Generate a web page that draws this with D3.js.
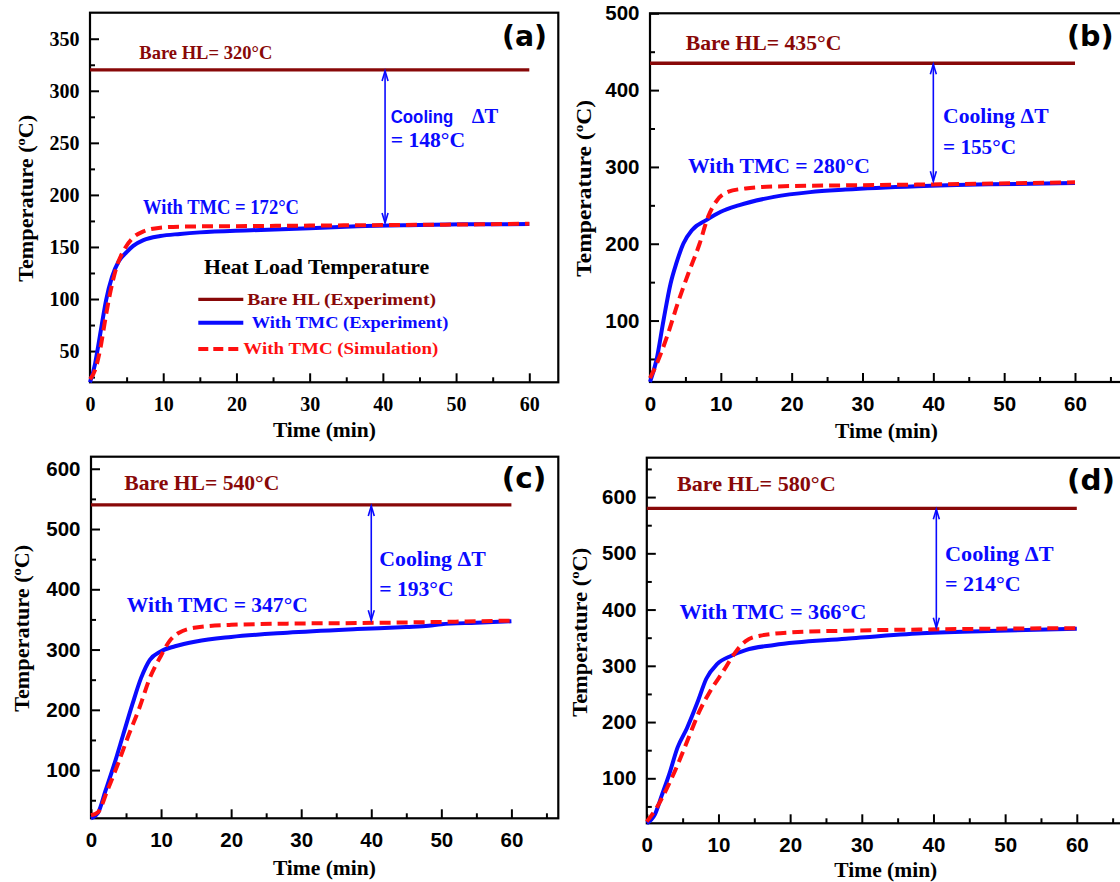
<!DOCTYPE html>
<html>
<head>
<meta charset="utf-8">
<script src="https://cdn.jsdelivr.net/npm/d3@7/dist/d3.min.js"></script>
<style>
  body { margin: 0; background: #fff; }
  svg { display: block; }
</style>
</head>
<body>
<svg id="fig" width="1120" height="882"></svg>
<script>
// ---- values ----
const panelTags = ["(a)", "(b)", "(c)", "(d)"];
const bareHL = [320, 435, 540, 580];      // bare heat load, steady state (°C)
const withTMC = [172, 280, 347, 366];     // with TMC at 60 min (°C)
const coolingDT = [148, 155, 193, 214];   // bare minus TMC (°C)
const arrowTime = [40.3, 40, 40, 40.4];   // min

const timeTicks = [0, 10, 20, 30, 40, 50, 60];
const timeMinor = [5, 15, 25, 35, 45, 55, 65];
const tempTicksA = [50, 100, 150, 200, 250, 300, 350];
const tempMinorA = [25, 75, 125, 175, 225, 275, 325];
const tempTicksB = [100, 200, 300, 400, 500];
const tempMinorB = [50, 150, 250, 350, 450];
const tempTicksC = [100, 200, 300, 400, 500, 600];
const tempMinorC = [50, 150, 250, 350, 450, 550];
const tempTicksD = [100, 200, 300, 400, 500, 600];
const tempMinorD = [50, 150, 250, 350, 450, 550, 650];

// [time (min), temperature (°C)]
const expA = [[0,20],[0.7,38],[1.1,54],[1.6,75],[2.2,99],[3.0,121],[3.9,136],[5.0,145],[5.9,151],[7.3,156.5],[9.6,160.5],[12.3,162.5],[15,164],[22,166],[30,168],[36.5,169.8],[45,171],[51,171.7],[60,172]];
const simA = [[0,23],[0.7,32],[1.4,52],[2.05,79],[2.7,104],[3.6,130],[4.8,149],[5.9,159],[7.3,165],[9.6,168.5],[12.3,169.5],[20,170],[30,170.5],[40,171],[50,171.5],[60,172.3]];
const expB = [[0,20],[0.9,48],[1.9,100],[2.9,148],[3.7,174],[4.7,200],[5.95,218],[8,231],[10,241.6],[12.5,250],[17.5,261],[22.6,267.2],[27.6,270.5],[37.7,274.8],[47.8,277.3],[60,279]];
const simB = [[0,25],[1.1,47],[2.4,79],[3.9,122],[5.4,161],[7.0,200],[8.2,235],[9.5,257],[11,267.5],[13.5,272],[17.5,274.5],[27.6,276],[37.7,277],[60,280]];
const expC = [[0,20],[1.0,29],[2.05,65],[3.3,109],[4.6,159],[5.9,209],[7.15,253],[8.4,283],[9.95,297],[12,305.5],[15,313.5],[20,321],[28,328],[38,334],[45,337.5],[48.2,339.5],[50,342],[55,344.5],[60,347]];
const simC = [[0,25],[1.0,30],[2.3,65],[3.8,109],[5.4,159],[6.9,203],[8.4,253],[9.95,289],[11.2,314],[12.5,327.5],[15,336.5],[20,341],[28,343],[38,344],[48,345.5],[60,348]];
const expD = [[0,20],[1.1,35],[2.1,70],[3.1,106],[4.3,155],[5.6,189],[7.1,236],[8.3,277],[9.8,303],[11.8,318],[13.8,328],[17.8,337],[27.8,348],[37.7,357.5],[47.7,362],[60,366]];
const simD = [[0,23],[1.35,47],[2.8,82],[4.3,124],[5.8,171],[7.3,218],[8.8,254],[10.6,289],[12.3,323],[13.8,344],[15.8,353.5],[20.3,359.5],[28,362.5],[38,364.5],[60,367]];

const legendTitle = "Heat Load Temperature";
const legendNames = ["Bare HL  (Experiment)", "With TMC (Experiment)", "With TMC (Simulation)"];

// ---- styles ----
const SERIF = "'Liberation Serif', 'Times New Roman', serif";
const SANS = "'Liberation Sans', Arial, sans-serif";
const TAGFONT = "'DejaVu Sans', Verdana, sans-serif";
const C_BARE = "#880808";
const C_EXP = "#0a0aff";
const C_SIM = "#ff1010";

// ---- layout (pixels) ----
const panels = [
  { tag: 0, x0: 90, x60: 529.3, right: 558.3, top: 12.7, bottom: 382.3, yDom: [20, 375],
    ticks: tempTicksA, minor: tempMinorA, exp: expA, sim: simA, tickFont: SERIF, tickSize: 20, xPad: 15,
    bare: [139.3, 59, 133, 19], tagPos: [502, 45.5, 45, 28],
    cool: null, cool2: [390.7, 147.3, 74.3, 22], tmc: [143, 214, 156, 20],
    xTitle: [324.4, 437], yTitle: [33, 198.3, 167] },
  { tag: 1, x0: 650, x60: 1075, right: 1140, top: 13.3, bottom: 382, yDom: [20, 500],
    ticks: tempTicksB, minor: tempMinorB, exp: expB, sim: simB, tickFont: SANS, tickSize: 20.5, xPad: 14.5,
    bare: [685.7, 49.5, 155.7, 22], tagPos: [1067, 45.5, 46.6, 28],
    cool: [943, 122.5, 105.6, 22], cool2: [943, 153.5, 73, 22], tmc: [687.9, 173, 182, 21],
    xTitle: [886.5, 438], yTitle: [591, 188.3, 177] },
  { tag: 2, x0: 91, x60: 511.4, right: 558.3, top: 456.7, bottom: 818.3, yDom: [20, 620],
    ticks: tempTicksC, minor: tempMinorC, exp: expC, sim: simC, tickFont: SANS, tickSize: 20.5, xPad: 14,
    bare: [124.3, 490, 155, 22], tagPos: [501.8, 487.8, 44.6, 28],
    cool: [379.3, 565.5, 106.4, 22], cool2: [379.3, 595.5, 74.3, 22], tmc: [126.8, 611.5, 181, 21],
    xTitle: [324.4, 875], yTitle: [28.5, 628.3, 167] },
  { tag: 3, x0: 646.8, x60: 1076.8, right: 1140, top: 457.7, bottom: 823.3, yDom: [20, 670],
    ticks: tempTicksD, minor: tempMinorD, exp: expD, sim: simD, tickFont: SANS, tickSize: 20.5, xPad: 14.5,
    bare: [677, 490.5, 158.7, 22], tagPos: [1067, 489.5, 48, 28],
    cool: [945, 560.5, 108.6, 22], cool2: [945, 590.5, 75.7, 22], tmc: [679.6, 618.5, 186.8, 21],
    xTitle: [885.8, 877], yTitle: [587, 632.3, 169] }
];

const svg = d3.select("#fig");

function put(g, str, pos, family, color, anchor) {
  const [x, y, w, size] = pos;
  return g.append("text")
    .attr("x", x).attr("y", y)
    .style("font-family", family).attr("font-weight", "bold")
    .attr("font-size", size).attr("fill", color)
    .attr("text-anchor", anchor || "start")
    .attr("textLength", w).attr("lengthAdjust", "spacingAndGlyphs")
    .text(str);
}

function styleAxis(sel, p, labels) {
  sel.select(".domain").remove();
  sel.selectAll(".tick line").attr("stroke", "#000").attr("stroke-width", 2);
  if (labels) {
    sel.selectAll(".tick text")
      .attr("fill", "#000")
      .style("font-family", p.tickFont)
      .style("font-size", p.tickSize + "px")
      .style("font-weight", "bold");
  }
}

panels.forEach((p, i) => {
  const x = d3.scaleLinear().domain([0, 60]).range([p.x0, p.x60]);
  const y = d3.scaleLinear().domain(p.yDom).range([p.bottom, p.top]);
  const xMaxVal = x.invert(p.right);
  const g = svg.append("g");

  // ticks (inward), minor first
  g.append("g").attr("transform", `translate(0,${p.bottom})`)
    .call(d3.axisBottom(x).tickValues(timeMinor.filter(t => t < xMaxVal)).tickSizeInner(-5).tickSizeOuter(0).tickFormat(""))
    .call(s => styleAxis(s, p, false));
  g.append("g").attr("transform", `translate(0,${p.bottom})`)
    .call(d3.axisBottom(x).tickValues(timeTicks).tickSizeInner(-9).tickSizeOuter(0).tickPadding(p.xPad))
    .call(s => styleAxis(s, p, true));
  g.append("g").attr("transform", `translate(${p.x0},0)`)
    .call(d3.axisLeft(y).tickValues(p.minor.filter(v => v > p.yDom[0] && v < p.yDom[1])).tickSizeInner(-5).tickSizeOuter(0).tickFormat(""))
    .call(s => styleAxis(s, p, false));
  g.append("g").attr("transform", `translate(${p.x0},0)`)
    .call(d3.axisLeft(y).tickValues(p.ticks).tickSizeInner(-9).tickSizeOuter(0).tickPadding(10.5))
    .call(s => styleAxis(s, p, true));

  // frame
  g.append("rect")
    .attr("x", p.x0).attr("y", p.top)
    .attr("width", p.right - p.x0).attr("height", p.bottom - p.top)
    .attr("fill", "none").attr("stroke", "#000").attr("stroke-width", 2.2);

  // bare heat load level
  g.append("line")
    .attr("x1", x(0)).attr("x2", x(60))
    .attr("y1", y(bareHL[i])).attr("y2", y(bareHL[i]))
    .attr("stroke", C_BARE).attr("stroke-width", 3.3);

  const line = d3.line().x(d => x(d[0])).y(d => y(d[1])).curve(d3.curveMonotoneX);
  g.append("path").datum(p.exp).attr("d", line)
    .attr("fill", "none").attr("stroke", C_EXP).attr("stroke-width", 4);
  g.append("path").datum(p.sim).attr("d", line)
    .attr("fill", "none").attr("stroke", C_SIM).attr("stroke-width", 4)
    .attr("stroke-dasharray", "11,6");

  // cooling arrow between bare level and TMC level
  const ax = x(arrowTime[i]);
  const yTop = y(bareHL[i]);
  const yBot = y(bareHL[i] - coolingDT[i]);
  const ar = g.append("g").attr("stroke", C_EXP).attr("fill", "none").attr("stroke-width", 1.6);
  ar.append("line").attr("x1", ax).attr("x2", ax).attr("y1", yTop + 1).attr("y2", yBot - 1);
  ar.append("path").attr("d", `M${ax - 3},${yTop + 11} L${ax},${yTop + 1} L${ax + 3},${yTop + 11}`);
  ar.append("path").attr("d", `M${ax - 3},${yBot - 11} L${ax},${yBot - 1} L${ax + 3},${yBot - 11}`);

  // annotations
  put(g, `Bare HL= ${bareHL[i]}°C`, p.bare, SERIF, C_BARE);
  put(g, panelTags[p.tag], p.tagPos, TAGFONT, "#000");
  if (p.cool) {
    put(g, "Cooling ΔT", p.cool, SERIF, C_EXP);
  } else {
    put(g, "Cooling", [390.7, 122.7, 62.6, 17.5], SANS, C_EXP);
    put(g, "ΔT", [471.7, 122.7, 26.6, 20], SERIF, C_EXP);
  }
  put(g, `= ${coolingDT[i]}°C`, p.cool2, SERIF, C_EXP);
  put(g, `With TMC = ${withTMC[i]}°C`, p.tmc, SERIF, C_EXP);

  // axis titles
  put(g, "Time (min)", [p.xTitle[0], p.xTitle[1], 103, 21], SERIF, "#000", "middle");
  const yt = g.append("text")
    .attr("transform", `translate(${p.yTitle[0]},${p.yTitle[1]}) rotate(-90)`)
    .attr("text-anchor", "middle")
    .style("font-family", SERIF).attr("font-weight", "bold").attr("font-size", 20)
    .attr("fill", "#000")
    .attr("textLength", p.yTitle[2]).attr("lengthAdjust", "spacingAndGlyphs");
  yt.append("tspan").text("Temperature  (");
  yt.append("tspan").attr("font-size", 13).attr("dy", -8).text("o");
  yt.append("tspan").attr("dy", 8).text("C)");

  // legend (first panel only)
  if (i === 0) {
    const lg = g.append("g");
    put(lg, legendTitle, [204, 274.3, 225.3, 21], SERIF, "#000");
    const rows = [
      { y: 299.3, color: C_BARE, w: 3.3, dash: null, text: [247.3, 305, 188.7, 17.7] },
      { y: 322.7, color: C_EXP, w: 4, dash: null, text: [251.7, 328.3, 196.6, 17.7] },
      { y: 349, color: C_SIM, w: 4, dash: "10,5", text: [243.3, 354.3, 195, 17.7] }
    ];
    rows.forEach((r, k) => {
      lg.append("line").attr("x1", 198.3).attr("x2", 243.3).attr("y1", r.y).attr("y2", r.y)
        .attr("stroke", r.color).attr("stroke-width", r.w)
        .attr("stroke-dasharray", r.dash);
      put(lg, legendNames[k], r.text, SERIF, r.color);
    });
  }
});
</script>
</body>
</html>
